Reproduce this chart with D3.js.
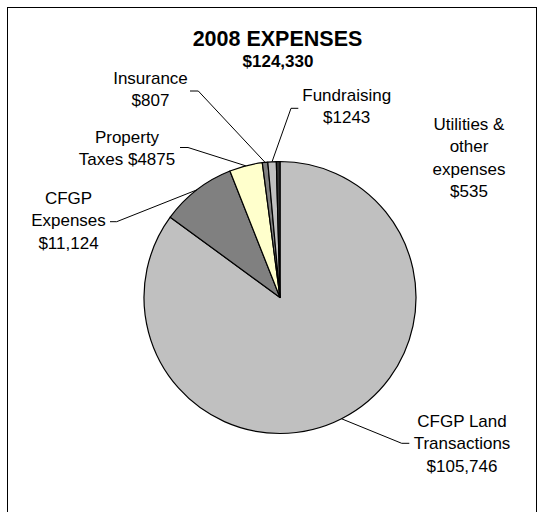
<!DOCTYPE html>
<html>
<head>
<meta charset="utf-8">
<script src="https://d3js.org/d3.v7.min.js"></script>
<style>
  body { margin: 0; background: #fff; }
  text { font-family: "Liberation Sans", Arial, sans-serif; fill: #000; }
</style>
</head>
<body>
<svg id="chart"></svg>
<script>
// data
const categories = ["CFGP Land Transactions", "CFGP Expenses", "Property Taxes", "Insurance", "Fundraising", "Utilities & other expenses"];
const values = [105746, 11124, 4875, 807, 1243, 535];
const labelLines = [
  ["CFGP Land", "Transactions", "$105,746"],
  ["CFGP", "Expenses", "$11,124"],
  ["Property", "Taxes $4875"],
  ["Insurance", "$807"],
  ["Fundraising", "$1243"],
  ["Utilities &", "other", "expenses", "$535"]
];
const colors = ["#c0c0c0", "#808080", "#ffffcc", "#808080", "#c0c0c0", "#333333"];
const title = "2008 EXPENSES";
const subtitle = "$124,330";

// label placement (layout only)
const labelPos = [
  { x: 462, y: 427, elbow: [401.7, 443.3], end: [409.3, 443.3] },
  { x: 68.5, y: 204, elbow: [116.7, 221.7], end: [110, 221.7] },
  { x: 127, y: 143, elbow: [188, 147.5], end: [180, 147.5] },
  { x: 150.5, y: 84, elbow: [198.3, 91], end: [190, 91] },
  { x: 346.7, y: 100.7, elbow: [291, 108.3], end: [298.3, 108.3] },
  { x: 469, y: 130, elbow: null, end: null }
];

(function() {
  const width = 540;
  const height = 512;
  const cx = 280, cy = 297.5, r = 136;
  const lineH = 22.3;

  const svg = d3.select("#chart")
      .attr("width", width)
      .attr("height", height);

  // chart frame
  svg.append("rect")
      .attr("x", 7.5).attr("y", 7.5)
      .attr("width", 529).attr("height", 530)
      .attr("fill", "#fff")
      .attr("stroke", "#000")
      .attr("stroke-width", 1);

  svg.append("text")
      .attr("x", 277.5).attr("y", 46)
      .attr("text-anchor", "middle")
      .attr("font-size", "21.5px")
      .attr("font-weight", "bold")
      .text(title);

  svg.append("text")
      .attr("x", 278).attr("y", 66.7)
      .attr("text-anchor", "middle")
      .attr("font-size", "17px")
      .attr("font-weight", "bold")
      .text(subtitle);

  const pie = d3.pie().sort(null).value(function(d) { return d; });
  const arcs = pie(values);
  const arc = d3.arc().innerRadius(0).outerRadius(r);
  const edge = d3.arc().innerRadius(r).outerRadius(r);

  const g = svg.append("g").attr("transform", "translate(" + cx + "," + cy + ")");

  g.selectAll("path")
      .data(arcs)
      .enter()
      .append("path")
      .attr("d", arc)
      .attr("fill", function(d, i) { return colors[i]; })
      .attr("stroke", "#000")
      .attr("stroke-width", 1.2)
      .attr("stroke-linejoin", "round");

  // leader lines
  arcs.forEach(function(d, i) {
    const p = labelPos[i];
    if (!p.elbow) return;
    const s = edge.centroid(d);
    const pts = [[cx + s[0], cy + s[1]], p.elbow, p.end];
    svg.append("path")
        .attr("d", d3.line()(pts))
        .attr("fill", "none")
        .attr("stroke", "#000")
        .attr("stroke-width", 1);
  });

  // labels
  labelLines.forEach(function(lines, i) {
    const p = labelPos[i];
    const t = svg.append("text")
        .attr("text-anchor", "middle")
        .attr("font-size", "17px");
    lines.forEach(function(s, j) {
      t.append("tspan")
          .attr("x", p.x)
          .attr("y", p.y + j * lineH)
          .text(s);
    });
  });
})();
</script>
</body>
</html>
